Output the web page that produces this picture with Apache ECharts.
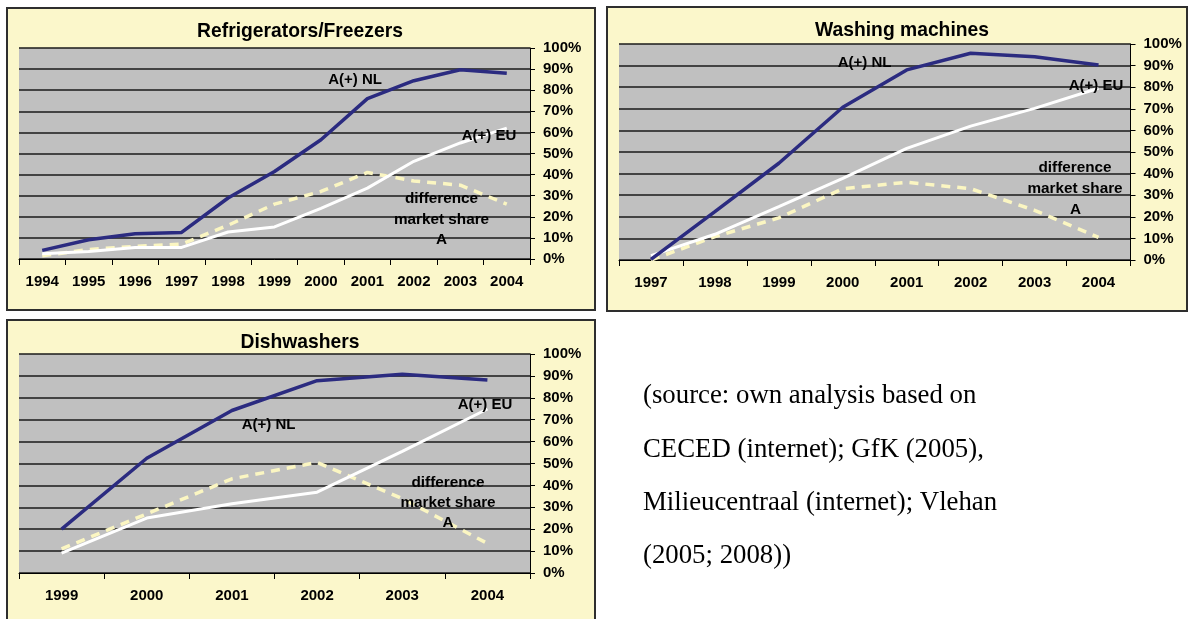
<!DOCTYPE html>
<html>
<head>
<meta charset="utf-8">
<script src="https://cdn.jsdelivr.net/npm/echarts@6/dist/echarts.min.js"></script>
<style>
html,body{margin:0;padding:0;background:#ffffff;}
#c{width:1190px;height:619px;}
</style>
</head>
<body>
<div id="c"></div>
<script>
// ---------- data ----------
const titles = ['Refrigerators/Freezers', 'Washing machines', 'Dishwashers'];

const years1 = ['1994','1995','1996','1997','1998','1999','2000','2001','2002','2003','2004'];
const nl1    = [4.1, 9.1, 12, 12.6, 28.9, 41.5, 56.5, 76, 84.5, 89.7, 88];
const eu1    = [2.5, 3.6, 5.5, 5.5, 12.8, 15.2, 24, 33.6, 46.3, 55, 62];
const diff1  = [1.5, 4.5, 6, 7, 16, 26, 32, 41, 37, 35, 26];

const years2 = ['1997','1998','1999','2000','2001','2002','2003','2004'];
const nl2    = [0.3, 22.4, 44.8, 70.7, 88, 95.7, 94.1, 90.3];
const eu2    = [2, 11.9, 24.7, 37.8, 51.7, 62, 70.2, 79.5];
const diff2  = [0, 10.8, 19.5, 33, 36, 33, 23, 10.5];

const years3 = ['1999','2000','2001','2002','2003','2004'];
const nl3    = [20, 52.4, 74.2, 87.8, 90.7, 88.1];
const eu3    = [9.1, 25.1, 31.6, 36.9, 55.5, 74.9];
const diff3  = [11, 27, 43, 50.5, 34, 13.5];

const labelNL = 'A(+) NL';
const labelEU = 'A(+) EU';
const labelDiff = ['difference', 'market share', 'A'];
const sourceLines = ['(source: own analysis based on', 'CECED (internet); GfK (2005),', 'Milieucentraal (internet); Vlehan', '(2005; 2008))'];

// ---------- styling ----------
const FONT = 'Liberation Sans, Arial, sans-serif';
const PANEL_BG = '#FBF7CB';
const PLOT_BG = '#C0C0C0';
const NAVY = '#2B2B80';
const DASH = '#FBF6C2';

const grids = [
  {left: 19, top: 48, width: 511, height: 211},
  {left: 619, top: 44, width: 511.5, height: 216},
  {left: 19, top: 354, width: 511, height: 219}
];
const panels = [
  {x: 7, y: 8, w: 588, h: 302},
  {x: 607, y: 7, w: 580, h: 304},
  {x: 7, y: 320, w: 588, h: 310}
];

function xAxis(i, cats) {
  return {
    type: 'category', gridIndex: i, data: cats, boundaryGap: true,
    axisLine: {show: true, lineStyle: {color: '#000', width: 1}},
    axisTick: {show: true, length: 6, lineStyle: {color: '#000'}},
    axisLabel: {color: '#000', fontFamily: FONT, fontWeight: 'bold', fontSize: 15, margin: 15},
    splitLine: {show: false}
  };
}
function yAxis(i) {
  return {
    type: 'value', gridIndex: i, position: 'right', min: 0, max: 100, interval: 10,
    axisLine: {show: true, lineStyle: {color: '#000', width: 1}},
    axisTick: {show: true, length: 5, lineStyle: {color: '#000'}},
    axisLabel: {color: '#000', fontFamily: FONT, fontWeight: 'bold', fontSize: 15, margin: 13, formatter: '{value}%'},
    splitLine: {show: true, lineStyle: {color: '#1a1a1a', width: 1.6}}
  };
}
function seriesFor(i, nl, eu, diff) {
  return [
    {type: 'line', xAxisIndex: i, yAxisIndex: i, data: diff, symbol: 'none', smooth: false,
     lineStyle: {color: DASH, width: 3.5, type: [9, 7]}, z: 2},
    {type: 'line', xAxisIndex: i, yAxisIndex: i, data: eu, symbol: 'none',
     lineStyle: {color: '#FFFFFF', width: 3}, z: 3},
    {type: 'line', xAxisIndex: i, yAxisIndex: i, data: nl, symbol: 'none',
     lineStyle: {color: NAVY, width: 3.5}, z: 4}
  ];
}

function txt(x, y, s, size, family, align, weight) {
  return {type: 'text', x: x, y: y, z: 50,
    style: {text: s, fill: '#000', font: (weight || 'bold') + ' ' + size + 'px ' + family,
      textAlign: align || 'center', textVerticalAlign: 'middle'}};
}

const graphics = [];
panels.forEach(p => {
  graphics.push({type: 'rect', z: -100, shape: {x: p.x, y: p.y, width: p.w, height: p.h},
    style: {fill: PANEL_BG, stroke: '#2e2e2e', lineWidth: 2}});
});
// titles
graphics.push(txt(300, 31.5, titles[0], 19.3, FONT));
graphics.push(txt(902, 31, titles[1], 19.3, FONT));
graphics.push(txt(300, 343, titles[2], 19.3, FONT));
// in-plot labels, chart 1
graphics.push(txt(355, 80, labelNL, 15, FONT));
graphics.push(txt(489, 136, labelEU, 15, FONT));
graphics.push(txt(441.5, 199, labelDiff[0], 15.3, FONT));
graphics.push(txt(441.5, 219.5, labelDiff[1], 15.3, FONT));
graphics.push(txt(441.5, 240, labelDiff[2], 15.3, FONT));
// chart 2
graphics.push(txt(864.5, 63, labelNL, 15, FONT));
graphics.push(txt(1096, 86, labelEU, 15, FONT));
graphics.push(txt(1075, 168, labelDiff[0], 15.3, FONT));
graphics.push(txt(1075, 189, labelDiff[1], 15.3, FONT));
graphics.push(txt(1075.5, 209.5, labelDiff[2], 15.3, FONT));
// chart 3
graphics.push(txt(268.5, 425, labelNL, 15, FONT));
graphics.push(txt(485, 405, labelEU, 15, FONT));
graphics.push(txt(448, 482.5, labelDiff[0], 15.3, FONT));
graphics.push(txt(448, 503, labelDiff[1], 15.3, FONT));
graphics.push(txt(448, 523, labelDiff[2], 15.3, FONT));
// source text
const srcY = [396, 449.5, 503, 556];
sourceLines.forEach((s, k) => {
  graphics.push(txt(643, srcY[k], s, 26.8, 'Liberation Serif, Times New Roman, serif', 'left', 'normal'));
});

const chart = echarts.init(document.getElementById('c'), null, {renderer: 'canvas'});
chart.setOption({
  animation: false,
  backgroundColor: '#ffffff',
  grid: grids.map(g => Object.assign({show: true, backgroundColor: PLOT_BG, borderWidth: 0, containLabel: false}, g)),
  xAxis: [xAxis(0, years1), xAxis(1, years2), xAxis(2, years3)],
  yAxis: [yAxis(0), yAxis(1), yAxis(2)],
  series: [].concat(seriesFor(0, nl1, eu1, diff1), seriesFor(1, nl2, eu2, diff2), seriesFor(2, nl3, eu3, diff3)),
  graphic: graphics
});
</script>
</body>
</html>
